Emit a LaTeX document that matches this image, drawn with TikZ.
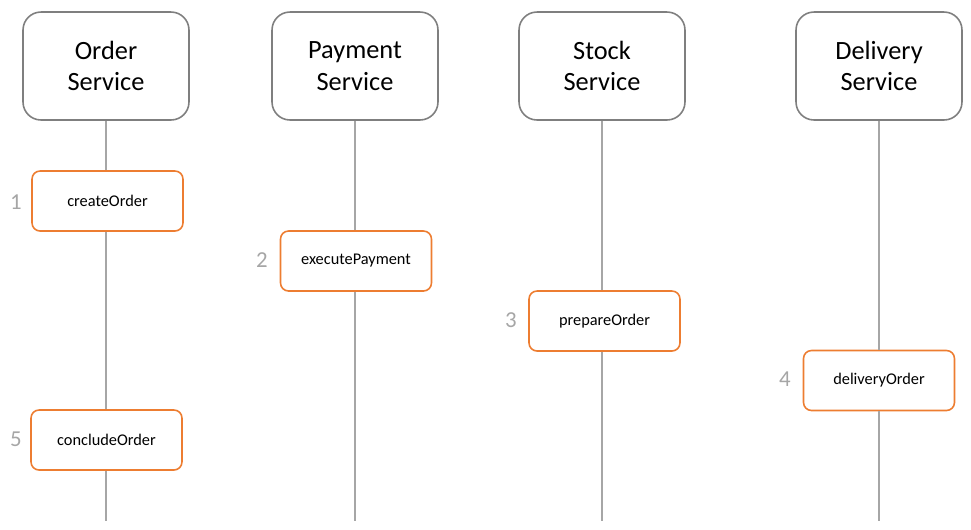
\documentclass[tikz,border=0pt]{standalone}
\usepackage{fontspec}
\setmainfont{Carlito}
\definecolor{svcgray}{HTML}{7F7F7F}
\definecolor{linegray}{HTML}{A6A6A6}
\definecolor{numgray}{HTML}{A6A6A6}
\definecolor{actorange}{HTML}{ED7D31}

\begin{document}
\begin{tikzpicture}[x=0.02cm,y=-0.02cm,
    svc/.style={draw=svcgray,line width=0.9pt,rounded corners=0.36cm,fill=white,
        minimum width=3.32cm,minimum height=2.16cm,align=center,
        font=\fontsize{15}{18}\selectfont},
    act/.style={draw=actorange,line width=0.9pt,rounded corners=0.16cm,fill=white,
        minimum width=3.02cm,minimum height=1.2cm,font=\fontsize{9.3}{11}\selectfont},
    num/.style={text=numgray,font=\fontsize{13}{15}\selectfont},
    life/.style={draw=linegray,line width=0.7pt}]
    \useasboundingbox (0,0) rectangle (971,529);
    % services
    \node [svc] (order) at (106,66) {Order\\Service};
    \node [svc] (payment) at (355,66) {Payment\\Service};
    \node [svc] (stock) at (602,66) {Stock\\Service};
    \node [svc] (delivery) at (879,66) {Delivery\\Service};
    % steps
    \node [act] (create) at (107.5,201) {createOrder};
    \node [act] (execute) at (356,261) {executePayment};
    \node [act] (prepare) at (604.5,321) {prepareOrder};
    \node [act] (deliver) at (879,380.5) {deliveryOrder};
    \node [act] (conclude) at (106.5,440) {concludeOrder};
    \node [num] (n1) at (16,202) {1};
    \node [num] (n2) at (262,260) {2};
    \node [num] (n3) at (511,320) {3};
    \node [num] (n4) at (785,379) {4};
    \node [num] (n5) at (16,439) {5};
    % lifelines
    \coordinate (orderend) at (106,521);
    \coordinate (paymentend) at (355,521);
    \coordinate (stockend) at (602,521);
    \coordinate (deliveryend) at (879,521);
    \draw [life] (order.south) -- (order.south |- create.north);
    \draw [life] (order.south |- create.south) -- (order.south |- conclude.north);
    \draw [life] (order.south |- conclude.south) -- (orderend);
    \draw [life] (payment.south) -- (payment.south |- execute.north);
    \draw [life] (payment.south |- execute.south) -- (paymentend);
    \draw [life] (stock.south) -- (stock.south |- prepare.north);
    \draw [life] (stock.south |- prepare.south) -- (stockend);
    \draw [life] (delivery.south) -- (delivery.south |- deliver.north);
    \draw [life] (delivery.south |- deliver.south) -- (deliveryend);
\end{tikzpicture}
\end{document}
